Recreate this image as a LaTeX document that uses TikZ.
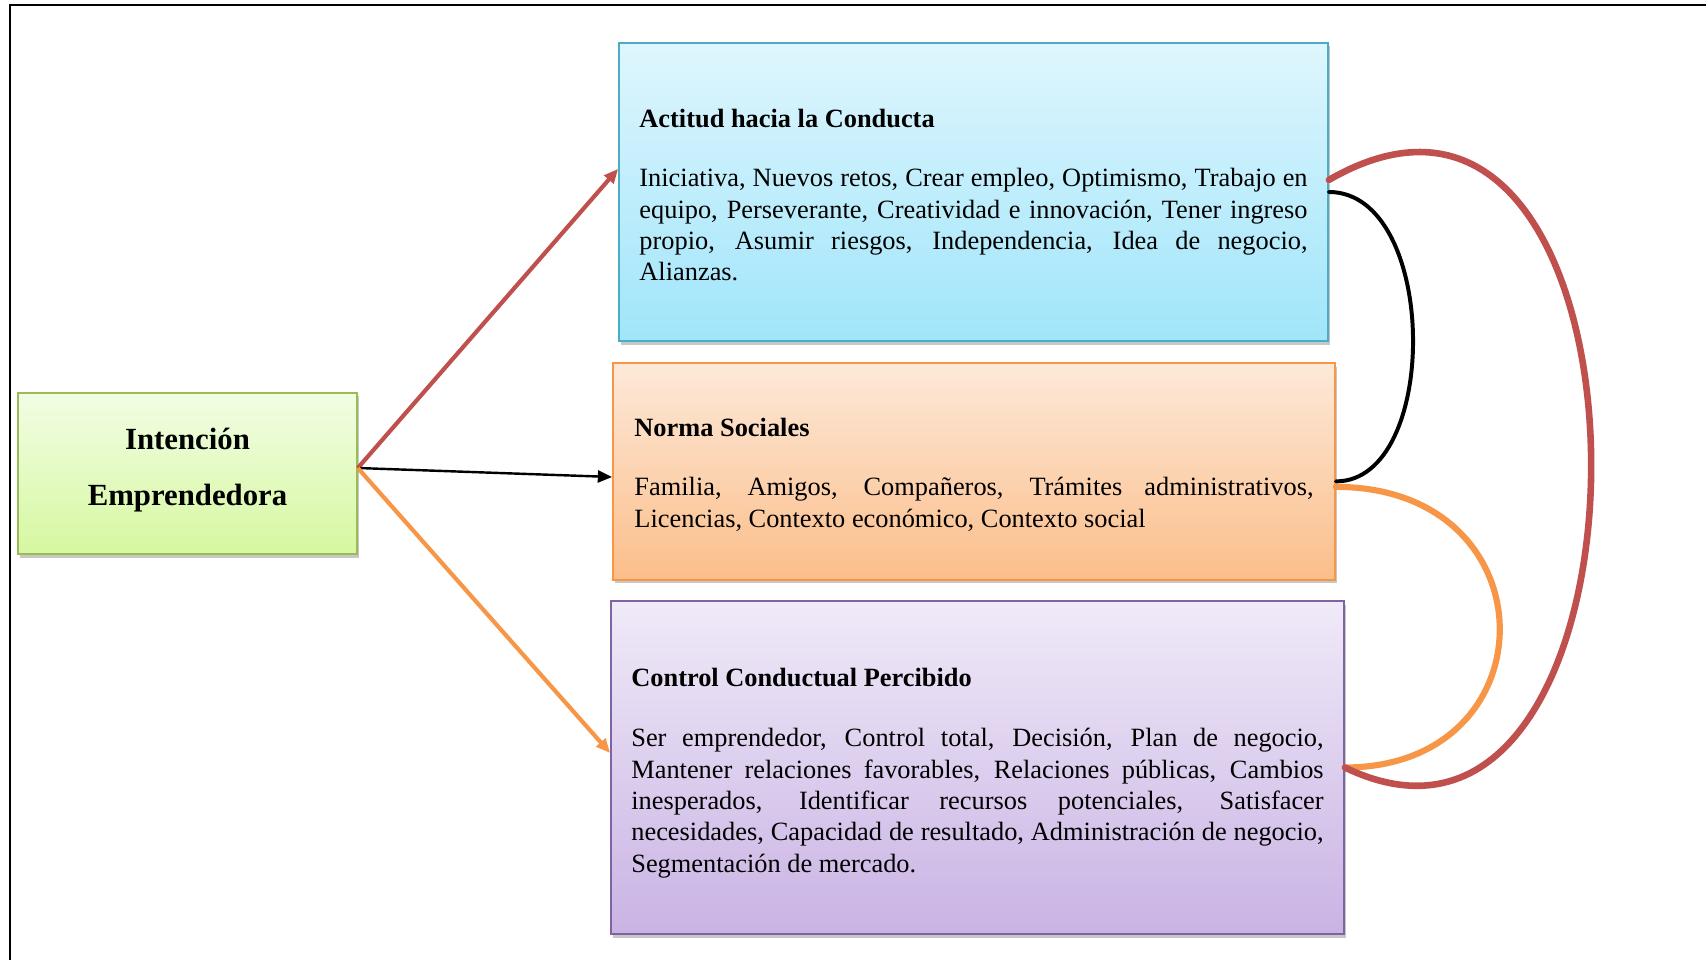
\documentclass[tikz,border=0pt]{standalone}
\usepackage{fontspec}
\setmainfont{Liberation Serif}
\usetikzlibrary{positioning}
\usetikzlibrary{calc}
\usetikzlibrary{shadows}
\usetikzlibrary{arrows.meta}
\definecolor{aqualine}{HTML}{4BACC6}
\definecolor{aquatop}{HTML}{DFF6FD}
\definecolor{aquabottom}{HTML}{A0E5FA}
\definecolor{peachline}{HTML}{F79646}
\definecolor{peachtop}{HTML}{FDE9D9}
\definecolor{peachbottom}{HTML}{FBBE8A}
\definecolor{lilacline}{HTML}{8064A2}
\definecolor{lilactop}{HTML}{F0EAF8}
\definecolor{lilacbottom}{HTML}{C9B3E4}
\definecolor{limeline}{HTML}{9BBB59}
\definecolor{limetop}{HTML}{F2FDE4}
\definecolor{limebottom}{HTML}{D6F8A0}
\definecolor{brickline}{HTML}{C0504D}
\tikzset{
    % Plain triangular heads, like the ones of the original figure
    >={Triangle[length=6.5pt,width=5.5pt]},
%
    % Common look of every box: thin border and a soft shadow
    factor box/.style={
        rectangle, line width=0.8pt, inner sep=0pt,
        drop shadow={shadow xshift=0.8pt, shadow yshift=-1.6pt,
            fill=black, opacity=0.22}},
%
    % Justified text of the three boxes on the right
    factor text/.style={align=justify,
        font=\fontsize{12}{14.24}\selectfont},
%
    % One gradient per box
    aqua fill/.style={draw=aqualine, top color=aquatop, bottom color=aquabottom},
    peach fill/.style={draw=peachline, top color=peachtop, bottom color=peachbottom},
    lilac fill/.style={draw=lilacline, top color=lilactop, bottom color=lilacbottom},
    lime fill/.style={draw=limeline, top color=limetop, bottom color=limebottom},
%
    % The curved links on the right have no heads
    link line/.style={line cap=round}}

\begin{document}
\begin{tikzpicture}[x=0.455pt, y=0.455pt]

\useasboundingbox (0,0) rectangle (1706,960);
\draw [line width=1pt] (10,0) |- (1706,955);

% The extra depth lifts the two lines a little above the middle
\node [factor box, lime fill, minimum width=154.2pt, minimum height=73.3pt,
    align=center, text depth=6pt, font=\fontsize{14}{25.75}\selectfont\bfseries]
    (intencion) at (187.5,486.5)
{Intención\\Emprendedora};

% The invisible rules push each text block slightly down
\node [factor box, aqua fill, factor text, text width=304pt,
    minimum width=322.6pt, minimum height=135.6pt]
    (actitud) at (973.5,768)
{
    \rule{0pt}{11.2pt}{\bfseries Actitud hacia la Conducta}\par\vspace{12.8pt}
    Iniciativa, Nuevos retos, Crear empleo, Optimismo, Trabajo en\linebreak
    equipo, Perseverante, Creatividad e innovación, Tener ingreso\linebreak
    propio, Asumir riesgos, Independencia, Idea de negocio,\linebreak
    Alianzas.
};

\node [factor box, peach fill, factor text, text width=309pt,
    minimum width=328.5pt, minimum height=98.7pt]
    (norma) at (974,488.5)
{
    \rule{0pt}{11.2pt}{\bfseries Norma Sociales}\par\vspace{12.8pt}
    Familia, Amigos, Compañeros, Trámites administrativos,\linebreak
    Licencias, Contexto económico, Contexto social
};

\node [factor box, lilac fill, factor text, text width=315pt,
    minimum width=333.5pt, minimum height=151.5pt]
    (control) at (977.5,192.5)
{
    \rule{0pt}{13.2pt}{\bfseries Control Conductual Percibido}\par\vspace{13.3pt}
    Ser emprendedor, Control total, Decisión, Plan de negocio,\linebreak
    Mantener relaciones favorables, Relaciones públicas, Cambios\linebreak
    inesperados, Identificar recursos potenciales, Satisfacer\linebreak
    necesidades, Capacidad de resultado, Administración de negocio,\linebreak
    Segmentación de mercado.
};

% All three arrows leave from the same point of the left box
\coordinate (fork) at ([yshift=2.5pt]intencion.east);
\draw [->, line width=1.9pt, brickline] (fork) -- ([yshift=10.5pt]actitud.west);
\draw [->, line width=1.1pt] (fork) -- ([yshift=-2.5pt]norma.west);
\draw [->, line width=1.9pt, peachline] (fork) -- ([yshift=6.6pt]control.west);

\draw [link line, line width=1.8pt]
    (actitud.east) .. controls +(110,0) and +(105,0) .. ([yshift=-4.5pt]norma.east);
\draw [link line, line width=2.8pt, peachline]
    ([yshift=-7pt]norma.east) .. controls +(217,0) and +(208,0) .. (control.east);
\draw [link line, line width=3pt, brickline]
    ([yshift=5.5pt]actitud.east) .. controls +(347,200) and +(331,-160) .. (control.east);

\end{tikzpicture}
\end{document}
